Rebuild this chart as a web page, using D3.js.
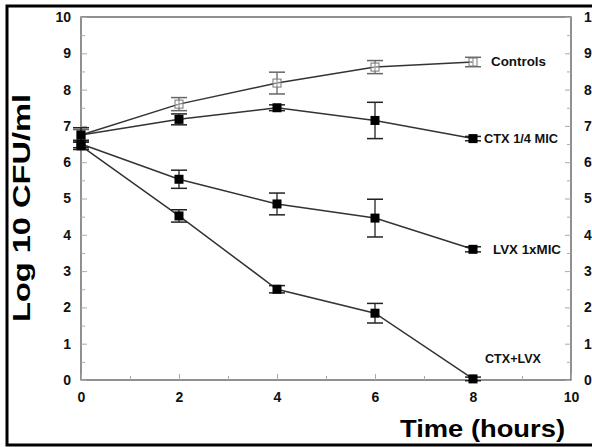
<!DOCTYPE html>
<html><head><meta charset="utf-8">
<script src="https://cdn.jsdelivr.net/npm/d3@7"></script>
<style>body{margin:0;background:#fff}svg{display:block}</style>
</head><body>
<svg id="c" width="592" height="447"></svg>
<script>
const times = [0, 2, 4, 6, 8];
const seriesNames = ["Controls", "CTX 1/4 MIC", "LVX 1xMIC", "CTX+LVX"];
const controls = [6.75, 7.6, 8.18, 8.62, 8.76];
const controlsErr = [0.15, 0.18, 0.3, 0.18, 0.13];
const ctxQuarter = [6.75, 7.18, 7.5, 7.15, 6.65];
const ctxQuarterErr = [0.2, 0.15, 0.08, 0.5, 0.06];
const lvx = [6.5, 5.53, 4.85, 4.46, 3.6];
const lvxErr = [0.1, 0.25, 0.3, 0.52, 0.07];
const combo = [6.45, 4.52, 2.5, 1.84, 0.03];
const comboErr = [0.1, 0.17, 0.1, 0.27, 0.05];
const xTicks = [0, 2, 4, 6, 8, 10];
const yTicks = [0, 1, 2, 3, 4, 5, 6, 7, 8, 9, 10];

const svg = d3.select("#c");
const x = d3.scaleLinear().domain([0, 10]).range([81, 571]);
const y = d3.scaleLinear().domain([0, 10]).range([380, 17]);
const font = "'Liberation Sans', Arial, sans-serif";

// outer frame
svg.append("rect").attr("x", 7).attr("y", 6).attr("width", 600).attr("height", 439)
  .attr("fill", "none").attr("stroke", "#000").attr("stroke-width", 3);

// plot box
const axisCol = "#555";
svg.append("rect").attr("x", x(0)).attr("y", y(10)).attr("width", x(10) - x(0)).attr("height", y(0) - y(10))
  .attr("fill", "none").attr("stroke", axisCol).attr("stroke-width", 1.3);

// axes with inward ticks
const leftAxis = d3.axisLeft(y).tickValues(yTicks).tickSize(-6).tickPadding(10).tickFormat(d3.format("d"));
svg.append("g").attr("transform", `translate(${x(0)},0)`).call(leftAxis);
const rightAxis = d3.axisRight(y).tickValues(yTicks).tickSize(-6).tickPadding(13).tickFormat(d3.format("d"));
svg.append("g").attr("transform", `translate(${x(10)},0)`).call(rightAxis);
const bottomAxis = d3.axisBottom(x).tickValues(xTicks).tickSize(-6).tickPadding(12).tickFormat(d3.format("d"));
svg.append("g").attr("transform", `translate(0,${y(0)})`).call(bottomAxis);
// minor ticks
const minorY = d3.range(0.5, 10, 1);
svg.append("g").attr("transform", `translate(${x(0)},0)`).call(d3.axisLeft(y).tickValues(minorY).tickSize(-4).tickFormat(""));
svg.append("g").attr("transform", `translate(${x(10)},0)`).call(d3.axisRight(y).tickValues(minorY).tickSize(-4).tickFormat(""));
svg.append("g").attr("transform", `translate(0,${y(0)})`).call(d3.axisBottom(x).tickValues(d3.range(1, 10, 2)).tickSize(-4).tickFormat(""));
svg.selectAll(".domain").remove();
svg.selectAll(".tick line").attr("stroke", "#aaa").attr("stroke-width", 1);
svg.selectAll(".tick text").attr("font-family", font).attr("font-weight", "bold")
  .attr("font-size", 14).attr("fill", "#111");

// series
const series = [
  {vals: controls, err: controlsErr, open: true, label: seriesNames[0]},
  {vals: ctxQuarter, err: ctxQuarterErr, open: false, label: seriesNames[1]},
  {vals: lvx, err: lvxErr, open: false, label: seriesNames[2]},
  {vals: combo, err: comboErr, open: false, label: seriesNames[3]}
];
const line = d3.line().x((d, i) => x(times[i])).y(d => y(d));
const lineCol = "#333";
series.forEach(s => {
  svg.append("path").datum(s.vals).attr("d", line).attr("fill", "none")
    .attr("stroke", lineCol).attr("stroke-width", 1.5);
  const g = svg.append("g");
  s.vals.forEach((v, i) => {
    const cx = x(times[i]);
    const cw = 8;
    const col = s.open ? "#666" : "#222";
    g.append("line").attr("x1", cx).attr("x2", cx).attr("y1", y(v + s.err[i])).attr("y2", y(v - s.err[i]))
      .attr("stroke", col).attr("stroke-width", 1.3);
    [v + s.err[i], v - s.err[i]].forEach(e => {
      g.append("line").attr("x1", cx - cw).attr("x2", cx + cw).attr("y1", y(e)).attr("y2", y(e))
        .attr("stroke", col).attr("stroke-width", 1.5);
    });
    if (s.open) {
      g.append("rect").attr("x", cx - 4).attr("y", y(v) - 4).attr("width", 8).attr("height", 8)
        .attr("fill", "#fff").attr("fill-opacity", 0.4).attr("stroke", "#777").attr("stroke-width", 1);
    } else {
      g.append("rect").attr("x", cx - 4.5).attr("y", y(v) - 4.5).attr("width", 9).attr("height", 9)
        .attr("fill", "#000");
    }
  });
});

// series labels
const labelPos = [
  {t: seriesNames[0], x: 491, y: controls[4], w: 55},
  {t: seriesNames[1], x: 484, y: ctxQuarter[4], w: 74},
  {t: seriesNames[2], x: 493, y: lvx[4], w: 68},
  {t: seriesNames[3], x: 485, y: 0.6, w: 56}
];
labelPos.forEach(l => {
  svg.append("text").attr("x", l.x).attr("y", y(l.y)).attr("dy", "0.35em")
    .attr("font-family", font).attr("font-weight", "bold").attr("font-size", 12.5)
    .attr("textLength", l.w).attr("lengthAdjust", "spacingAndGlyphs")
    .attr("fill", "#111").text(l.t);
});

// axis titles
svg.append("text").attr("transform", `translate(30,${208}) rotate(-90)`).attr("text-anchor", "middle")
  .attr("font-family", font).attr("font-weight", "bold").attr("font-size", 24)
  .attr("textLength", 228).attr("lengthAdjust", "spacingAndGlyphs").attr("fill", "#000")
  .text("Log 10 CFU/ml");
svg.append("text").attr("x", 400).attr("y", 437)
  .attr("font-family", font).attr("font-weight", "bold").attr("font-size", 24)
  .attr("textLength", 165).attr("lengthAdjust", "spacingAndGlyphs").attr("fill", "#000")
  .text("Time (hours)");
</script>
</body></html>
